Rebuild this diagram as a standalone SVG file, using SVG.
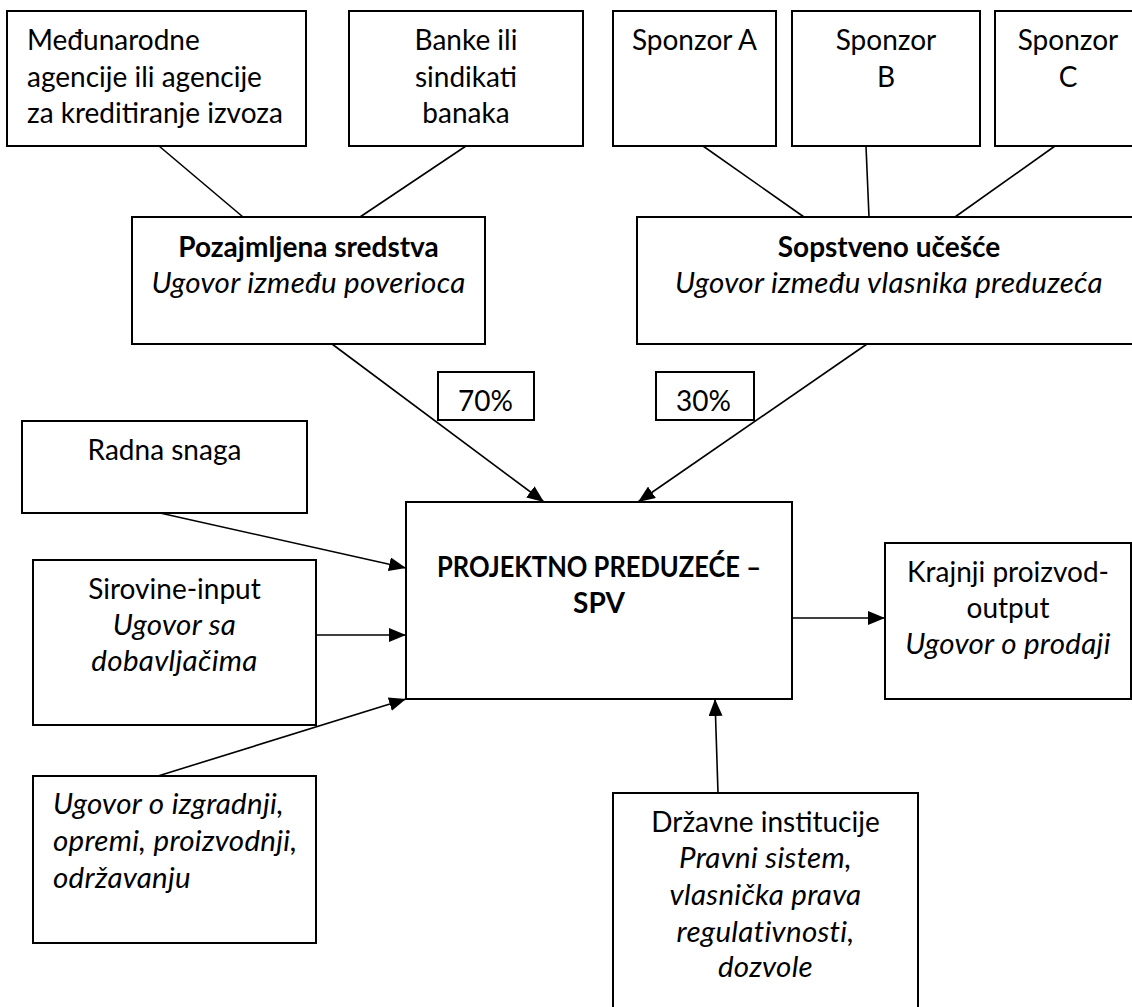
<svg xmlns="http://www.w3.org/2000/svg" width="1132" height="1007" viewBox="0 0 1132 1007">
<style>
.box{fill:#fff;stroke:#000;stroke-width:2}
.ln{stroke:#000;stroke-width:1.6;fill:none}
.ar{stroke:#000;stroke-width:1.6;fill:none;marker-end:url(#ah)}
text{font-family:Lato,"Liberation Sans",sans-serif;font-size:28px;fill:#000}
.c{text-anchor:middle}
.b{font-weight:bold}
.i{font-style:italic;font-size:29.5px;letter-spacing:0.3px}
</style>
<defs>
<marker id="ah" markerUnits="userSpaceOnUse" markerWidth="18" markerHeight="14" refX="17" refY="7" orient="auto">
<path d="M0,0 L17,7 L0,14 z" fill="#000"/>
</marker>
</defs>
<rect width="1132" height="1007" fill="#fff"/>
<g id="connectors">
<line class="ln" x1="159" y1="146" x2="243" y2="217"/>
<line class="ln" x1="466" y1="146" x2="360" y2="217"/>
<line class="ln" x1="703" y1="146" x2="804" y2="217"/>
<line class="ln" x1="866" y1="146" x2="869" y2="217"/>
<line class="ln" x1="1055" y1="146" x2="955" y2="217"/>
<line class="ar" x1="332" y1="344" x2="544" y2="502"/>
<line class="ar" x1="867" y1="344" x2="638" y2="502"/>
<line class="ar" x1="160" y1="513" x2="406" y2="568"/>
<line class="ar" x1="316" y1="635" x2="406" y2="635"/>
<line class="ar" x1="158" y1="776" x2="406" y2="699"/>
<line class="ar" x1="792" y1="618" x2="885" y2="618"/>
<line class="ar" x1="718" y1="793" x2="715" y2="699"/>
</g>
<g id="intl">
<rect class="box" x="7" y="11" width="299" height="135"/>
<text x="27" y="50">Međunarodne</text>
<text x="27" y="87">agencije ili agencije</text>
<text x="27" y="123">za kreditiranje izvoza</text>
</g>
<g id="banke">
<rect class="box" x="349" y="11" width="234" height="135"/>
<text class="c" x="466" y="50">Banke ili</text>
<text class="c" x="466" y="87">sindikati</text>
<text class="c" x="466" y="123">banaka</text>
</g>
<g id="sponzorA">
<rect class="box" x="613" y="11" width="163" height="135"/>
<text class="c" x="694.5" y="50">Sponzor A</text>
</g>
<g id="sponzorB">
<rect class="box" x="792" y="11" width="188" height="135"/>
<text class="c" x="886" y="50">Sponzor</text>
<text class="c" x="886" y="87">B</text>
</g>
<g id="sponzorC">
<rect class="box" x="995" y="11" width="146" height="135"/>
<text class="c" x="1068" y="50">Sponzor</text>
<text class="c" x="1068" y="87">C</text>
</g>
<g id="pozajmljena">
<rect class="box" x="132" y="217" width="353" height="127"/>
<text class="c b" x="308.5" y="257">Pozajmljena sredstva</text>
<text class="c i" x="308.5" y="293">Ugovor između poverioca</text>
</g>
<g id="sopstveno">
<rect class="box" x="637" y="217" width="504" height="127"/>
<text class="c b" x="889" y="257">Sopstveno učešće</text>
<text class="c i" x="889" y="293">Ugovor između vlasnika preduzeća</text>
</g>
<g id="p70">
<rect class="box" x="438" y="372" width="96" height="48"/>
<text x="458" y="411">70%</text>
</g>
<g id="p30">
<rect class="box" x="656" y="372" width="98" height="48"/>
<text x="676" y="411">30%</text>
</g>
<g id="radna">
<rect class="box" x="22" y="421" width="285" height="92"/>
<text class="c" x="164.5" y="460">Radna snaga</text>
</g>
<g id="spv">
<rect class="box" x="406" y="502" width="386" height="197"/>
<text class="c b" x="599" y="577" textLength="324" lengthAdjust="spacingAndGlyphs">PROJEKTNO PREDUZEĆE –</text>
<text class="c b" x="599" y="613">SPV</text>
</g>
<g id="sirovine">
<rect class="box" x="33" y="560" width="283" height="165"/>
<text class="c" x="174.5" y="599">Sirovine-input</text>
<text class="c i" x="174.5" y="635">Ugovor sa</text>
<text class="c i" x="174.5" y="671">dobavljačima</text>
</g>
<g id="krajnji">
<rect class="box" x="885" y="543" width="246" height="156"/>
<text class="c" x="1008" y="582">Krajnji proizvod-</text>
<text class="c" x="1008" y="618">output</text>
<text class="c i" x="1008" y="654">Ugovor o prodaji</text>
</g>
<g id="izgradnja">
<rect class="box" x="33" y="776" width="283" height="167"/>
<text class="i" x="53" y="814">Ugovor o izgradnji,</text>
<text class="i" x="53" y="851">opremi, proizvodnji,</text>
<text class="i" x="53" y="888">održavanju</text>
</g>
<g id="drzavne">
<rect class="box" x="613" y="793" width="305" height="220"/>
<text class="c" x="765.5" y="832">Državne institucije</text>
<text class="c i" x="765.5" y="868">Pravni sistem,</text>
<text class="c i" x="765.5" y="905">vlasnička prava</text>
<text class="c i" x="765.5" y="942">regulativnosti,</text>
<text class="c i" x="765.5" y="977">dozvole</text>
</g>
</svg>
